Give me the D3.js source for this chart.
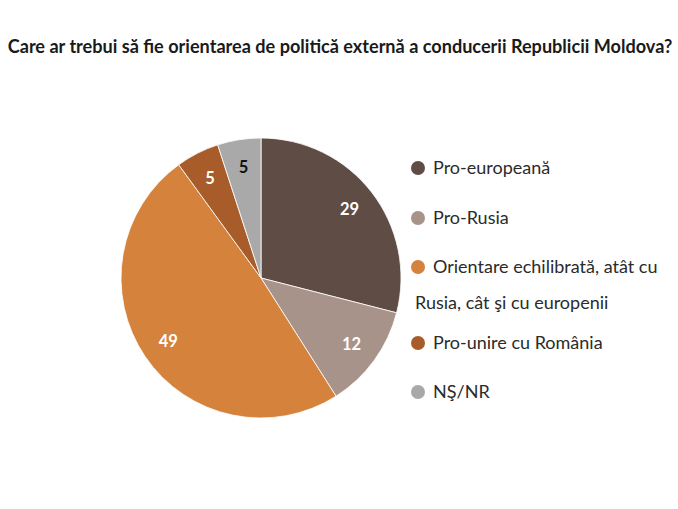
<!DOCTYPE html>
<html>
<head>
<meta charset="utf-8">
<script src="https://cdn.jsdelivr.net/npm/d3@7"></script>
<style>
  body { margin: 0; background: #fff; }
  text { font-family: Lato, "Open Sans", sans-serif; }
</style>
</head>
<body>
<div id="chart"></div>
<script>
// Data
// ================================
var categories = ["Pro-europeană", "Pro-Rusia", "Orientare echilibrată, atât cu\nRusia, cât şi cu europenii", "Pro-unire cu România", "NŞ/NR"];
var values = [29, 12, 49, 5, 5];
var colors = ["#5f4d45", "#a8938a", "#d4823c", "#a85c2a", "#a9a9a9"];
var labelColors = ["#fff", "#fff", "#fff", "#fff", "#111"];

var svgWidth = 678;
var svgHeight = 509;

var svg = d3.select("#chart")
  .append("svg")
  .attr("width", svgWidth)
  .attr("height", svgHeight);

// Title
svg.append("text")
  .attr("x", 340)
  .attr("y", 53)
  .attr("text-anchor", "middle")
  .attr("font-size", "18.1px")
  .attr("font-weight", "bold")
  .attr("fill", "#1a1a1a")
  .text("Care ar trebui să fie orientarea de politică externă a conducerii Republicii Moldova?");

// Pie
var radius = 140;
var pieGroup = svg.append("g")
  .attr("transform", "translate(261, 278)");

var pie = d3.pie().sort(null).value(d => d);
var arc = d3.arc().innerRadius(0).outerRadius(radius);
var labelArc = d3.arc().innerRadius(112).outerRadius(112);

var arcs = pie(values);

pieGroup.selectAll("path")
  .data(arcs)
  .enter()
  .append("path")
  .attr("d", arc)
  .attr("fill", (d, i) => colors[i])
  .attr("stroke", "#fff")
  .attr("stroke-width", 0.8);

pieGroup.selectAll(".slice-label")
  .data(arcs)
  .enter()
  .append("text")
  .classed("slice-label", true)
  .attr("transform", d => `translate(${labelArc.centroid(d)})`)
  .attr("dy", "0.35em")
  .attr("text-anchor", "middle")
  .attr("font-size", "16.5px")
  .attr("font-weight", "bold")
  .attr("fill", (d, i) => labelColors[i])
  .text(d => d.data);

// Legend
var legendY = [168, 218, 267, 343, 392];
var legend = svg.append("g");

categories.forEach(function(cat, i) {
  legend.append("circle")
    .attr("cx", 418)
    .attr("cy", legendY[i])
    .attr("r", 7)
    .attr("fill", colors[i]);

  var t = legend.append("text")
    .attr("x", 433)
    .attr("y", legendY[i])
    .attr("font-size", "18px")
    .attr("fill", "#2b2b2b");

  cat.split("\n").forEach(function(line, j) {
    t.append("tspan")
      .attr("x", j === 0 ? 433 : 415)
      .attr("dy", j === 0 ? "0.35em" : "2em")
      .text(line);
  });
});
</script>
</body>
</html>
